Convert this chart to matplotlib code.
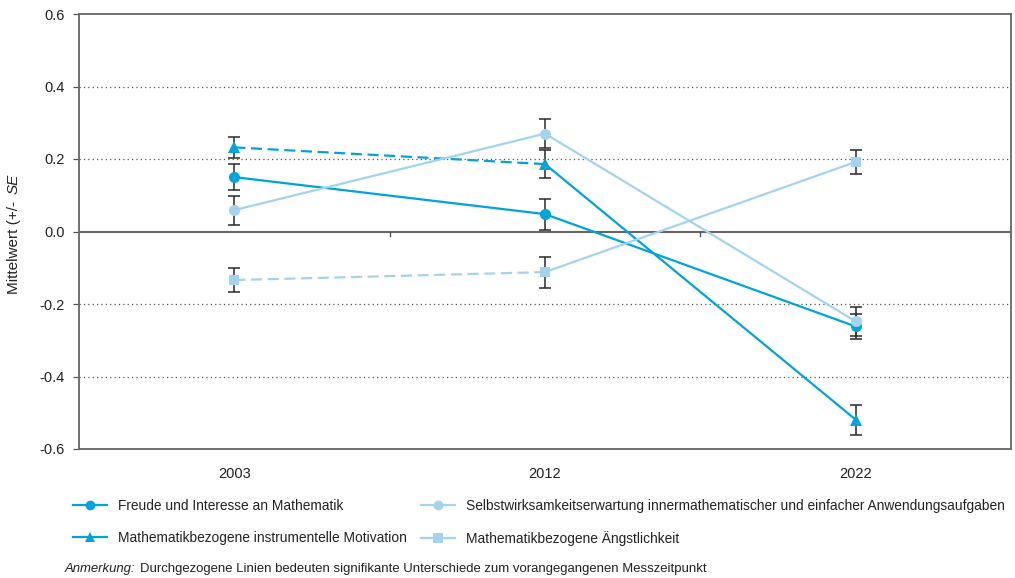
import matplotlib
matplotlib.use("Agg")
import matplotlib.pyplot as plt
from matplotlib.lines import Line2D
import numpy as np

plt.rcParams['font.family'] = ['Liberation Sans', 'DejaVu Sans']

years = ["2003", "2012", "2022"]
series_names = [
    "Freude und Interesse an Mathematik",
    "Mathematikbezogene instrumentelle Motivation",
    "Selbstwirksamkeitserwartung innermathematischer und einfacher Anwendungsaufgaben",
    "Mathematikbezogene Ängstlichkeit",
]
freude = [0.150, 0.048, -0.262]
freude_se = [0.035, 0.043, 0.035]
motivation = [0.232, 0.186, -0.519]
motivation_se = [0.028, 0.038, 0.041]
selbst = [0.059, 0.270, -0.248]
selbst_se = [0.040, 0.040, 0.040]
angst = [-0.134, -0.112, 0.192]
angst_se = [0.032, 0.043, 0.034]
# segment styles: True = solid (significant), False = dashed
freude_sig = [True, True]
motivation_sig = [False, True]
selbst_sig = [True, True]
angst_sig = [False, True]

dark = "#00A3DE"
light = "#A2D4F2"

fig = plt.figure(figsize=(10.15, 5.78), dpi=100)
ax = fig.add_axes([79/1015, 1-449/578, (1011-79)/1015, (449-14)/578])

x = np.arange(len(years))
specs = [
    (freude, freude_se, freude_sig, dark, "o", 8),
    (motivation, motivation_se, motivation_sig, dark, "^", 8),
    (selbst, selbst_se, selbst_sig, light, "o", 8),
    (angst, angst_se, angst_sig, light, "s", 7.5),
]

for vals, se, sig, col, mk, ms in specs:
    ax.errorbar(x, vals, yerr=se, fmt="none", ecolor="#2a2a2a", elinewidth=1.1,
                capsize=4, capthick=1.1, zorder=2)
for vals, se, sig, col, mk, ms in specs:
    for i in range(len(vals) - 1):
        ax.plot(x[i:i+2], vals[i:i+2], color=col, lw=1.6,
                linestyle="-" if sig[i] else (0, (5, 2.5)), zorder=3)
    ax.plot(x, vals, linestyle="none", marker=mk, ms=ms, color=col,
            markeredgewidth=0, zorder=4)

ax.set_xlim(-0.5, 2.5)
ax.set_ylim(-0.6, 0.6)
ax.set_yticks([-0.6, -0.4, -0.2, 0.0, 0.2, 0.4, 0.6])
ax.set_yticklabels(["-0.6", "-0.4", "-0.2", "0.0", "0.2", "0.4", "0.6"], fontsize=10.5, color="#222222")
for yv in [-0.4, -0.2, 0.2, 0.4]:
    ax.axhline(yv, color="#555555", lw=0.9, linestyle=(0, (1, 2.5)), zorder=1)
ax.axhline(0, color="#666666", lw=1.5, zorder=1)
# category boundary tick marks on zero line
for b in [0.5, 1.5]:
    ax.plot([b, b], [0, -0.012], color="#555555", lw=1, zorder=1)

ax.set_xticks(x)
ax.set_xticklabels(years, fontsize=10.5, color="#222222")
ax.tick_params(axis="x", length=0, pad=13)
ax.tick_params(axis="y", length=4, color="#555555", width=0.9, pad=6)
for s in ax.spines.values():
    s.set_color("#666666")
    s.set_linewidth(1.3)

fig.text(14/1015, 1-248/578, "Mittelwert (+/-", rotation=90, ha="center", va="center",
         fontsize=11, color="#222222")
fig.text(14/1015, 1-184/578, "SE", rotation=90, ha="center", va="center",
         fontsize=11, color="#222222", style="italic")

handles = [
    Line2D([], [], color=dark, marker="o", lw=1.6, ms=7, markeredgewidth=0),
    Line2D([], [], color=dark, marker="^", lw=1.6, ms=7, markeredgewidth=0),
    Line2D([], [], color=light, marker="o", lw=1.6, ms=7, markeredgewidth=0),
    Line2D([], [], color=light, marker="s", lw=1.6, ms=7, markeredgewidth=0),
]
fig.legend(handles, series_names, ncol=2, loc="upper left",
           bbox_to_anchor=(67.5/1015, 1-493.5/578), frameon=False, fontsize=9.9,
           handlelength=2.47, handletextpad=0.8, columnspacing=1.05,
           labelspacing=1.3, borderaxespad=0, labelcolor="#222222")

fig.text(65/1015, 1-569/578, "Anmerkung:", fontsize=9.45, style="italic",
         color="#222222", va="center", ha="left")
fig.text(140/1015, 1-569/578,
         "Durchgezogene Linien bedeuten signifikante Unterschiede zum vorangegangenen Messzeitpunkt",
         fontsize=9.45, color="#222222", va="center", ha="left")

fig.savefig("out.png", dpi=100)
